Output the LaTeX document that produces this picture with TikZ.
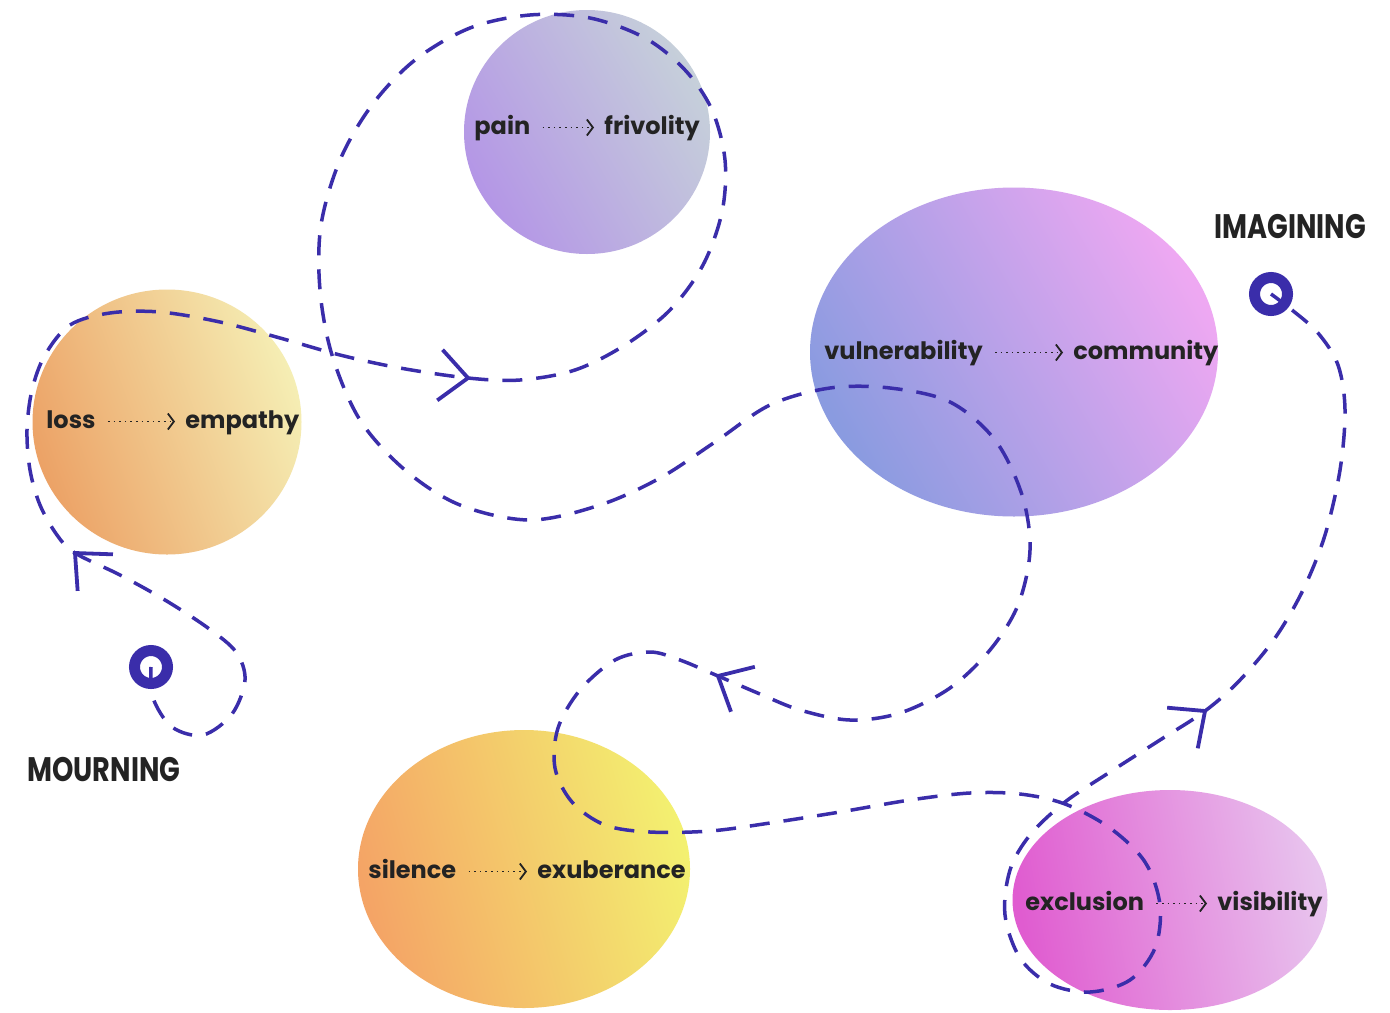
\documentclass[tikz,border=0pt]{standalone}
\usepackage{fontspec}
\setmainfont{Poppins}
\newfontfamily\headfont[FakeStretch=0.8]{Poppins}
\usetikzlibrary{shapes.geometric, arrows.meta}
\definecolor{trailblue}{HTML}{3A2DAA}
\definecolor{ink}{HTML}{232323}
\definecolor{painL}{HTML}{B496E6}
\definecolor{painR}{HTML}{C6D0DA}
\definecolor{vulnL}{HTML}{8A9BE0}
\definecolor{vulnR}{HTML}{EEA8F2}
\definecolor{lossL}{HTML}{ECA266}
\definecolor{lossR}{HTML}{F5EEB4}
\definecolor{silL}{HTML}{F4A466}
\definecolor{silR}{HTML}{F3F070}
\definecolor{exclL}{HTML}{E05CD0}
\definecolor{exclR}{HTML}{E8C4EE}
\tikzset{>={Straight Barb[length=3pt, width=8pt, line width=0.9pt]},
  blob/.style={ellipse, inner sep=0pt},
  word/.style={inner sep=0pt, text height=6.5pt, text depth=0pt, anchor=base west,
    text=ink, font=\fontsize{12}{14}\selectfont\bfseries},
  head/.style={inner sep=0pt, anchor=base west, text=ink,
    font=\headfont\fontsize{17}{20}\selectfont\bfseries},
  shiftto/.style={->, draw=ink, line width=0.8pt, dash pattern=on 0.8pt off 2pt,
    shorten <=6pt, shorten >=5pt},
  trail/.style={draw=trailblue, line width=1.75pt, dash pattern=on 10pt off 7pt},
  ring/.style={circle, draw=trailblue, line width=5.5pt, minimum size=16.5pt, inner sep=0pt},
  barb/.pic={\draw[trailblue, line width=1.9pt] (138:38) -- (0,0) -- (-138:38);}}

\begin{document}
\begin{tikzpicture}[x=0.5pt, y=-0.5pt]
    \fill[white] (0,0) rectangle (1390,1012);
    \useasboundingbox (0,0) rectangle (1390,1012);

    \node[blob, minimum width=123pt, minimum height=122pt, left color=painL, right color=painR, shading angle=120] (painblob) at (587,132) {};
    \node[blob, minimum width=204pt, minimum height=164.5pt, left color=vulnL, right color=vulnR, shading angle=120] (vulnblob) at (1014,352) {};
    \node[blob, minimum width=134.5pt, minimum height=132.5pt, left color=lossL, right color=lossR, shading angle=110] (lossblob) at (167,422) {};
    \node[blob, minimum width=166pt, minimum height=139pt, left color=silL, right color=silR, shading angle=105] (silblob) at (524,869) {};
    \node[blob, minimum width=157.5pt, minimum height=110pt, left color=exclL, right color=exclR, shading angle=100] (exclblob) at (1170,900) {};

    \node[word] (pain) at (474,134) {pain};
    \node[word] (frivolity) at (604,134) {frivolity};
    \node[word] (loss) at (46,428) {loss};
    \node[word] (empathy) at (185,428) {empathy};
    \node[word] (vulnerability) at (824,359) {vulnerability};
    \node[word] (community) at (1073,359) {community};
    \node[word] (silence) at (368,878) {silence};
    \node[word] (exuberance) at (537,878) {exuberance};
    \node[word] (exclusion) at (1025,910) {exclusion};
    \node[word] (visibility) at (1217,910) {visibility};
    \draw[shiftto] (pain) -- (frivolity);
    \draw[shiftto] (loss) -- (empathy);
    \draw[shiftto] (vulnerability) -- (community);
    \draw[shiftto] (silence) -- (exuberance);
    \draw[shiftto] (exclusion) -- (visibility);

    \node[head] (imagining) at (1214,238) {IMAGINING};
    \node[head] (mourning) at (27,781) {MOURNING};

    \coordinate (mourn) at (151,667);
    \coordinate (imag) at (1271,294);
    \draw[trail] plot[smooth, tension=0.55] coordinates {(mourn)
        (153,698) (172,727) (203,735) (232,714) (245,680) (236,652) (208,628)
        (165,600) (120,575) (75,553) (57,535) (40,505) (30,470) (27,430)
        (32,390) (45,355) (70,325) (110,313) (160,312) (220,322) (280,338)
        (340,355) (400,368) (468,378) (520,380) (575,370) (625,345) (670,310)
        (703,265) (722,212) (725,160) (712,110) (685,70) (645,38) (590,18)
        (530,15) (470,28) (415,60) (372,105) (340,160) (321,225) (320,290)
        (332,355) (360,420) (405,470) (460,505) (530,520) (600,505) (660,478)
        (715,442) (770,405) (830,388) (890,388) (950,402) (995,440) (1022,495)
        (1030,550) (1018,605) (990,650) (950,688) (900,713) (850,720) (800,710)
        (760,694) (718,676) (680,660) (650,652) (615,660) (580,690) (558,728)
        (555,768) (572,802) (605,825) (650,832) (710,831) (770,823) (840,812)
        (910,800) (970,793) (1020,794) (1065,804) (1110,828) (1145,862) (1160,905)
        (1155,948) (1130,980) (1090,992) (1050,984) (1020,958) (1005,915) (1010,870)
        (1030,835) (1065,802) (1110,772) (1160,740) (1205,711) (1240,680) (1275,638)
        (1303,590) (1325,535) (1340,470) (1345,410) (1338,365) (1318,333) (1292,310)
        (imag)};
    \pic[rotate=136] at (75,553) {barb};
    \pic[rotate=-6] at (468,378) {barb};
    \pic[rotate=152] at (718,676) {barb};
    \pic[rotate=37] at (1205,711) {barb};
    \node[ring] (mourncirc) at (mourn) {};
    \node[ring] (imagcirc) at (imag) {};
\end{tikzpicture}
\end{document}
